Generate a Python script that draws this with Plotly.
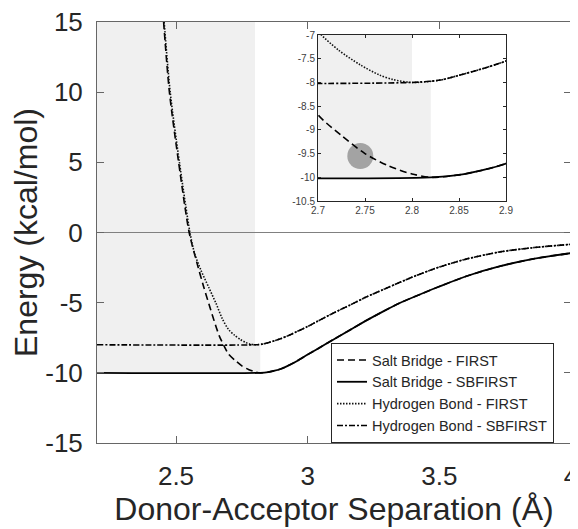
import plotly.graph_objects as go

# ---------------- data ----------------
# Salt bridge, repulsive wall (FIRST only) -> reaches minimum at 2.82
sb_wall_x = [2.453, 2.475, 2.51, 2.55, 2.58, 2.605, 2.625, 2.645, 2.665, 2.683, 2.70, 2.725, 2.75, 2.775, 2.80, 2.82]
sb_wall_y = [15, 10, 5, 0, -2.2, -3.86, -5.1, -6.3, -7.4, -8.1, -8.68, -9.12, -9.5, -9.76, -9.93, -10.0]
# Salt bridge, attractive tail (shared by FIRST and SBFIRST)
sb_tail_x = [2.85, 2.875, 2.90, 2.93, 2.96, 3.00, 3.037, 3.10, 3.163, 3.22, 3.289, 3.35, 3.428, 3.50, 3.605, 3.731, 3.857, 4.0]
sb_tail_y = [-9.95, -9.85, -9.71, -9.45, -9.15, -8.7, -8.3, -7.6, -6.92, -6.3, -5.6, -5.02, -4.4, -3.85, -3.1, -2.4, -1.88, -1.47]

# Hydrogen bond, repulsive wall (FIRST only) -> minimum at 2.80
hb_wall_x = [2.455, 2.478, 2.513, 2.553, 2.57, 2.595, 2.624, 2.652, 2.676, 2.70, 2.722, 2.745, 2.765, 2.78, 2.80]
hb_wall_y = [15, 10, 5, 0, -1.45, -2.7, -3.9, -5.05, -6.15, -6.92, -7.32, -7.63, -7.84, -7.94, -8.0]
# Hydrogen bond, attractive tail (shared)
hb_tail_x = [2.83, 2.85, 2.875, 2.90, 2.93, 2.96, 3.00, 3.037, 3.10, 3.163, 3.22, 3.289, 3.35, 3.415, 3.478, 3.55, 3.605, 3.731, 3.857, 4.0]
hb_tail_y = [-7.95, -7.85, -7.71, -7.55, -7.32, -7.05, -6.7, -6.33, -5.72, -5.15, -4.62, -4.05, -3.55, -3.05, -2.6, -2.17, -1.88, -1.38, -1.08, -0.84]

# SBFIRST plateaus (flat below the minimum)
sb_plateau_x = [2.2, 2.82]
sb_plateau_y = [-10.0, -10.0]
hb_plateau_x = [2.2, 2.80]
hb_plateau_y = [-8.0, -8.0]

# shaded (grey) regions: [x0, x1, y0, y1]
shade_upper = [2.2, 2.80, -8.0, 15.0]
shade_lower = [2.2, 2.82, -10.0, -8.0]
inset_shade_upper = [2.7, 2.80, -8.0, -7.0]
inset_shade_lower = [2.7, 2.82, -10.0, -8.0]

# highlighted point in the inset
highlight_x = [2.745]
highlight_y = [-9.55]

x_ticks = [2.5, 3, 3.5, 4]
x_tick_text = ["2.5", "3", "3.5", "4"]
y_ticks = [-15, -10, -5, 0, 5, 10, 15]
y_tick_text = ["-15", "-10", "-5", "0", "5", "10", "15"]
ix_ticks = [2.7, 2.75, 2.8, 2.85, 2.9]
ix_tick_text = ["2.7", "2.75", "2.8", "2.85", "2.9"]
iy_ticks = [-10.5, -10, -9.5, -9, -8.5, -8, -7.5, -7]
iy_tick_text = ["-10.5", "-10", "-9.5", "-9", "-8.5", "-8", "-7.5", "-7"]

series_names = ["Salt Bridge - FIRST", "Salt Bridge - SBFIRST",
                "Hydrogen Bond - FIRST", "Hydrogen Bond - SBFIRST"]

# ---------------- build series ----------------
sb_first_x = sb_wall_x + sb_tail_x
sb_first_y = sb_wall_y + sb_tail_y
sb_sbf_x = sb_plateau_x + sb_tail_x
sb_sbf_y = sb_plateau_y + sb_tail_y
hb_first_x = hb_wall_x + hb_tail_x
hb_first_y = hb_wall_y + hb_tail_y
hb_sbf_x = hb_plateau_x + hb_tail_x
hb_sbf_y = hb_plateau_y + hb_tail_y

styles = [
    dict(color="black", width=1.6, dash="7px,4px"),
    dict(color="black", width=1.8, dash="solid"),
    dict(color="#111111", width=1.6, dash="1.5px,1.5px"),
    dict(color="black", width=1.6, dash="6px,2px,2px,2px"),
]
data = [(sb_first_x, sb_first_y), (sb_sbf_x, sb_sbf_y),
        (hb_first_x, hb_first_y), (hb_sbf_x, hb_sbf_y)]

FONT = "Liberation Sans, Arial, Helvetica, sans-serif"

fig = go.Figure()

# highlight circle (under the lines, inset)
fig.add_trace(go.Scatter(x=highlight_x, y=highlight_y, mode="markers",
                         marker=dict(size=26, color="#a3a3a3", line=dict(width=0)),
                         xaxis="x2", yaxis="y2", showlegend=False, hoverinfo="skip"))

for (xs, ys), name, st in zip(data, series_names, styles):
    fig.add_trace(go.Scatter(x=xs, y=ys, mode="lines", name=name,
                             line=dict(shape="spline", smoothing=0.8, **st)))
for (xs, ys), name, st in zip(data, series_names, styles):
    fig.add_trace(go.Scatter(x=xs, y=ys, mode="lines", name=name, showlegend=False,
                             xaxis="x2", yaxis="y2",
                             line=dict(shape="spline", smoothing=0.8, **st)))

shapes = []
for r in (shade_upper, shade_lower):
    shapes.append(dict(type="rect", xref="x", yref="y", x0=r[0], x1=r[1], y0=r[2], y1=r[3],
                       fillcolor="#f0f0f0", line=dict(width=0), layer="below"))
for r in (inset_shade_upper, inset_shade_lower):
    shapes.append(dict(type="rect", xref="x2", yref="y2", x0=r[0], x1=r[1], y0=r[2], y1=r[3],
                       fillcolor="#f0f0f0", line=dict(width=0), layer="below"))

# the page body has an 8px margin: the figure is drawn 8px right/down
OFF = 8
W, H = 578 - OFF, 529 - OFF
ml, mr, mt, mb = 97 - OFF, 7, 22 - OFF, 86
pw, ph = W - ml - mr, H - mt - mb
inset_px = (318 - OFF, 506 - OFF, 35 - OFF, 201 - OFF)  # left, right, top, bottom
ix0 = (inset_px[0] - ml) / pw
ix1 = (inset_px[1] - ml) / pw
iy0 = (H - mb - inset_px[3]) / ph
iy1 = (H - mb - inset_px[2]) / ph
leg_x = (331 - OFF - ml) / pw
leg_y = (H - mb - (343 - OFF)) / ph

fig.update_layout(
    width=W, height=H,
    margin=dict(l=ml, r=mr, t=mt, b=mb, autoexpand=False),
    paper_bgcolor="white", plot_bgcolor="white",
    font=dict(family=FONT, color="#262626"),
    shapes=shapes,
    showlegend=True,
    legend=dict(x=leg_x, y=leg_y, xanchor="left", yanchor="top",
                bgcolor="white", bordercolor="#262626", borderwidth=1,
                font=dict(size=14.5, family=FONT, color="#262626"),
                tracegroupgap=0, itemwidth=30),
    xaxis=dict(range=[2.2, 4], tickvals=x_ticks, ticktext=x_tick_text,
               showgrid=False, zeroline=False, showline=True, mirror="ticks",
               linecolor="#666666", linewidth=1, ticks="inside", ticklen=7,
               tickcolor="#666666", tickfont=dict(size=26, color="#262626"),
               ticklabelstandoff=10, ticklabeloverflow="allow", automargin=False,
               title=dict(text="Donor-Acceptor Separation (Å)", font=dict(size=32, color="#262626"),
                          standoff=4)),
    yaxis=dict(range=[-15, 15], tickvals=y_ticks, ticktext=y_tick_text,
               showgrid=False, zeroline=True, zerolinecolor="#808080", zerolinewidth=1,
               showline=True, mirror="ticks",
               linecolor="#666666", linewidth=1, ticks="inside", ticklen=7,
               tickcolor="#666666", tickfont=dict(size=26, color="#262626"),
               ticklabelstandoff=8, ticklabeloverflow="allow", automargin=False,
               title=dict(text="Energy (kcal/mol)", font=dict(size=32, color="#262626"),
                          standoff=8)),
    xaxis2=dict(domain=[ix0, ix1], anchor="y2", range=[2.7, 2.9],
                tickvals=ix_ticks, ticktext=ix_tick_text,
                showgrid=False, zeroline=False, showline=True, mirror="ticks",
                linecolor="#262626", linewidth=1, ticks="inside", ticklen=3,
                tickcolor="#262626", tickfont=dict(size=10, color="#404040"),
                automargin=False),
    yaxis2=dict(domain=[iy0, iy1], anchor="x2", range=[-10.5, -7],
                tickvals=iy_ticks, ticktext=iy_tick_text,
                showgrid=False, zeroline=False, showline=True, mirror="ticks",
                linecolor="#262626", linewidth=1, ticks="inside", ticklen=3,
                tickcolor="#262626", tickfont=dict(size=10, color="#404040"),
                automargin=False),
)

fig.write_html("out.html")
